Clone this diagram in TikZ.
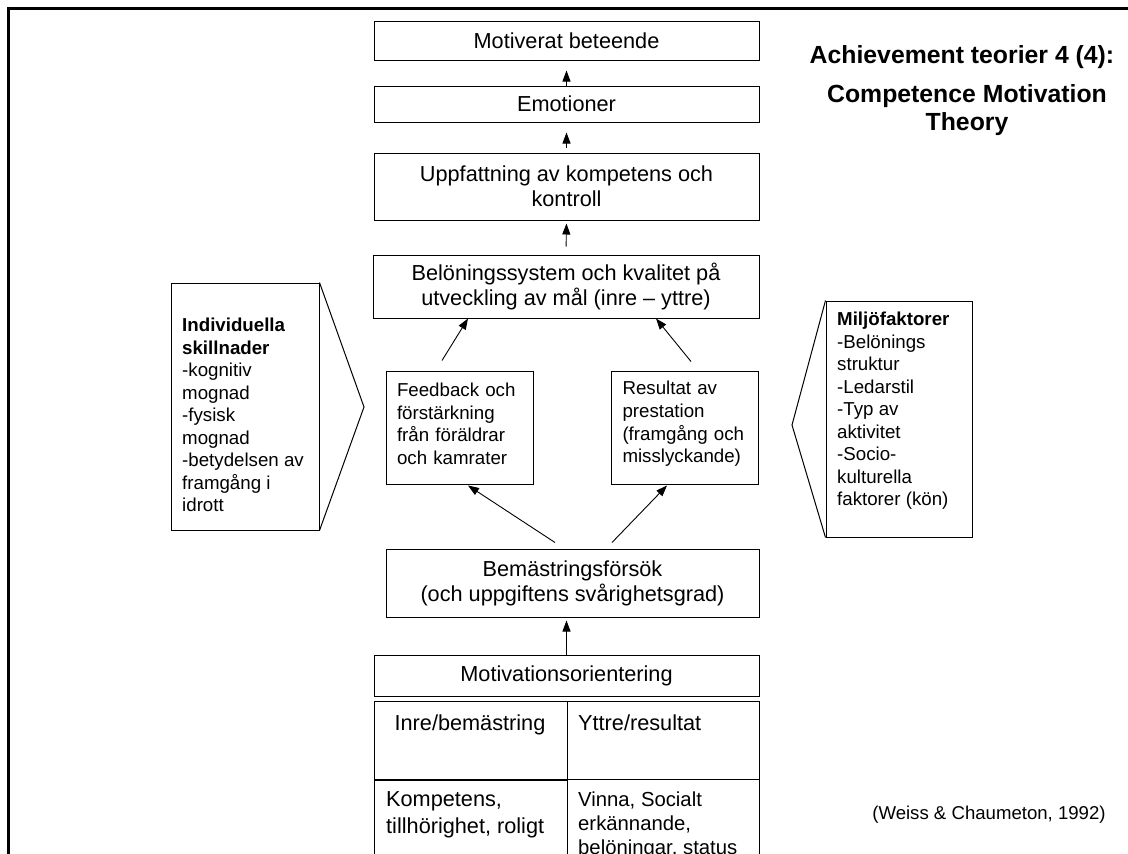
\documentclass[tikz,border=0pt]{standalone}
\usepackage{fontspec}
\setmainfont{Liberation Sans}
\usetikzlibrary{arrows.meta,calc}
\begin{document}
\begin{tikzpicture}[x=1pt,y=-1pt,
  box/.style={draw,line width=1pt,rectangle,inner sep=0pt,align=center,
    font=\fontsize{21.7}{25}\selectfont},
  cell/.style={draw,line width=1pt,rectangle,inner sep=0pt},
  sidebox/.style={draw,line width=1pt,rectangle,inner ysep=0pt,inner xsep=11pt,
    text width=125pt,align=left,font=\fontsize{18.7}{22.6}\selectfont},
  sidetext/.style={inner sep=0pt,align=left,anchor=west,
    font=\fontsize{18.7}{22.5}\selectfont},
  celltext/.style={inner sep=0pt,align=left,anchor=west},
  arr/.style={line width=0.9pt,-{Triangle[length=11pt,width=8pt]}}]

\clip (0,0) rectangle (1128,854);
\fill[white] (0,0) rectangle (1128,854);

% page frame
\draw[line width=3pt] (8.5,870) -- (8.5,8.5) -- (1140,8.5);

% central chain
\node[box,minimum width=385pt,minimum height=39pt] (mot) at (566.5,40.5) {Motiverat beteende};
\node[box,minimum width=385pt,minimum height=36pt] (emo) at (566.5,104) {Emotioner};
\node[box,minimum width=385pt,minimum height=67pt] (upp) at (566.5,186.5)
  {Uppfattning av kompetens och\\kontroll};
\node[box,minimum width=386pt,minimum height=63pt] (bel) at (566,286.5)
  {Belöningssystem och kvalitet på\\utveckling av mål (inre – yttre)};

\node[sidebox,minimum width=147pt,minimum height=113pt] (fb) at (459.5,427.5)
  {Feedback och\\förstärkning\\från föräldrar\\och kamrater\vspace{7pt}};
\node[sidebox,minimum width=146pt,minimum height=113pt] (res) at (685,427.5)
  {Resultat av\\prestation\\(framgång och\\misslyckande)\vspace{7pt}};

\node[box,minimum width=373pt,minimum height=68pt] (bem) at (572.5,583)
  {Bemästringsförsök\\(och uppgiftens svårighetsgrad)};
\node[box,minimum width=385pt,minimum height=41pt] (mo) at (566.5,675.5) {Motivationsorientering};

% orientation table
\node[cell,minimum width=193pt,minimum height=78pt] (tl) at (470.5,740) {};
\node[cell,minimum width=192pt,minimum height=78pt] (tr) at (663,740) {};
\node[cell,minimum width=193pt,minimum height=121pt] (bl) at (470.5,839.5) {};
\node[cell,minimum width=192pt,minimum height=121pt] (br) at (663,839.5) {};
\draw[line width=2pt] (tl.south west) -- (tl.south east);

\node[inner sep=0pt,anchor=base,font=\fontsize{21.7}{25}\selectfont] (tlt) at (470,730) {Inre/bemästring};
\node[inner sep=0pt,anchor=base west,font=\fontsize{21.7}{25}\selectfont] (trt) at (578,730) {Yttre/resultat};
\node[celltext,font=\fontsize{21.7}{27}\selectfont] (blt) at (386,815)
  {Kompetens,\\tillhörighet, roligt};
\node[celltext,font=\fontsize{20.3}{24}\selectfont] (brt) at (578,825)
  {Vinna, Socialt\\erkännande,\\belöningar, status};

% individual differences (left pointer box)
\node[cell,minimum width=148pt,minimum height=247pt] (ind) at (245,406.5) {};
\coordinate (indtip) at (364,407);
\draw[line width=1pt] (ind.north east) -- (indtip) -- (ind.south east);
\node[sidetext] (indt) at (182,415)
  {\textbf{Individuella}\\\textbf{skillnader}\\-kognitiv\\mognad\\-fysisk\\mognad\\-betydelsen av\\framgång i\\idrott};

% environmental factors (right pointer box)
\node[cell,minimum width=146pt,minimum height=236pt] (env) at (899,419) {};
\coordinate (envtip) at (792,425);
\draw[line width=1pt] (env.north west) -- (envtip) -- (env.south west);
\node[sidetext] (envt) at (837,411)
  {\textbf{Miljöfaktorer}\\-Belönings\\struktur\\-Ledarstil\\-Typ av\\aktivitet\\-Socio-\\kulturella\\faktorer (kön)};

% arrows
\draw[arr,shorten >=10pt] (emo.north) -- (mot.south);
\draw[arr,shorten <=5pt,shorten >=10pt] (upp.north) -- (emo.south);
\draw[arr,shorten <=8pt,shorten >=3pt] (bel.north) -- (upp.south);
\draw[arr] ([xshift=-17.5pt,yshift=10pt]fb.north) -- ([xshift=-98pt]bel.south);
\draw[arr] ([xshift=6pt,yshift=9pt]res.north) -- ([xshift=90pt]bel.south);
\draw[arr] ([xshift=-17.5pt,yshift=6pt]bem.north) -- ([xshift=8.5pt,yshift=-1pt]fb.south);
\draw[arr] ([xshift=39.5pt,yshift=6pt]bem.north) -- ([xshift=-18pt,yshift=-1pt]res.south);
\draw[arr,shorten >=3pt] (mo.north) -- (mo.north |- bem.south);

% title and reference
\node[inner sep=0pt,font=\bfseries\fontsize{24.8}{28}\selectfont] (title) at (962,57)
  {Achievement teorier 4 (4):};
\node[inner sep=0pt,align=center,font=\bfseries\fontsize{24.8}{28}\selectfont] (sub) at (967,110)
  {Competence Motivation\\Theory};
\node[inner sep=0pt,font=\fontsize{18.6}{22}\selectfont] (ref) at (989,815)
  {(Weiss \& Chaumeton, 1992)};
\end{tikzpicture}
\end{document}
